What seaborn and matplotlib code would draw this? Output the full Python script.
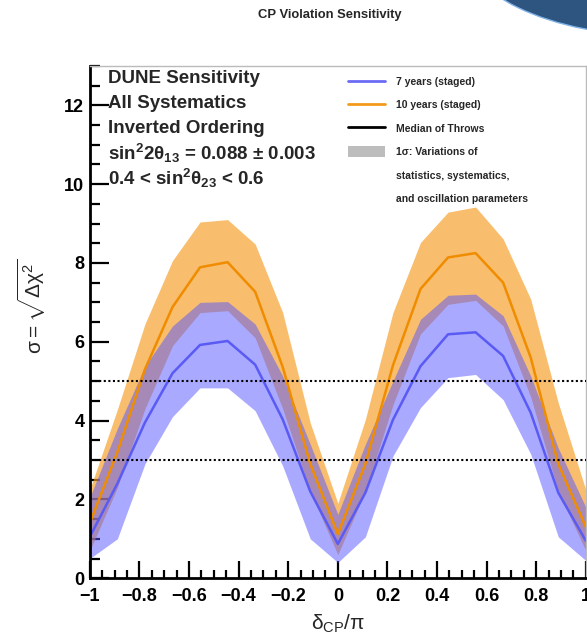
"""DUNE CP violation sensitivity, inverted ordering, staged 7 vs 10 years."""
import numpy as np
import pandas as pd
import matplotlib
matplotlib.use('Agg')
import matplotlib.pyplot as plt
import seaborn as sns
from matplotlib.lines import Line2D
from matplotlib.patches import Patch, Ellipse
from matplotlib.ticker import MultipleLocator

# delta_CP grid in degrees (20 deg steps), plotted as delta_CP / pi
delta_deg = [-180, -160, -140, -120, -100, -80, -60, -40, -20, 0,
             20, 40, 60, 80, 100, 120, 140, 160, 180]

# 7 years (staged): median of throws and 1 sigma band
blue_med = [1.05, 2.40, 3.95, 5.20, 5.92, 6.02, 5.42, 4.03, 2.20, 0.87,
            2.17, 4.02, 5.38, 6.19, 6.24, 5.64, 4.20, 2.17, 0.95]
blue_lo = [0.50, 1.00, 2.90, 4.10, 4.83, 4.83, 4.25, 2.85, 1.00, 0.40,
           1.05, 3.10, 4.33, 5.09, 5.17, 4.53, 3.15, 1.05, 0.45]
blue_hi = [2.05, 3.80, 5.38, 6.40, 7.00, 7.02, 6.45, 5.13, 3.40, 1.62,
           3.40, 5.00, 6.57, 7.18, 7.21, 6.66, 5.13, 3.30, 1.80]

# 10 years (staged)
orange_med = [1.40, 3.20, 5.30, 6.88, 7.89, 8.02, 7.27, 5.36, 2.90, 1.12,
              2.90, 5.40, 7.34, 8.14, 8.25, 7.50, 5.60, 2.90, 1.30]
orange_lo = [0.70, 2.30, 4.30, 5.90, 6.74, 6.79, 6.10, 4.30, 2.20, 0.60,
             2.20, 4.40, 6.20, 6.95, 7.05, 6.40, 4.60, 2.20, 0.70]
orange_hi = [2.25, 4.28, 6.45, 8.06, 9.04, 9.10, 8.48, 6.74, 3.94, 1.90,
             4.03, 6.74, 8.52, 9.29, 9.42, 8.61, 7.08, 4.45, 2.24]

sigma_levels = [3, 5]
info_lines = ['DUNE Sensitivity', 'All Systematics', 'Inverted Ordering',
              r'sin$^2$2$\theta_{13}$ = 0.088 $\pm$ 0.003',
              r'0.4 < sin$^2\theta_{23}$ < 0.6']

sns.set_theme(style='white')
plt.rcParams['font.family'] = ['Liberation Sans', 'DejaVu Sans']
plt.rcParams['font.weight'] = 'bold'
plt.rcParams['mathtext.fontset'] = 'custom'
plt.rcParams['mathtext.rm'] = 'Liberation Sans:bold'
plt.rcParams['mathtext.it'] = 'Liberation Sans:bold'
plt.rcParams['mathtext.bf'] = 'Liberation Sans:bold'
plt.rcParams['mathtext.default'] = 'regular'

df = pd.DataFrame({'dcp': np.array(delta_deg) / 180.0,
                   'blue': blue_med, 'orange': orange_med})

fig = plt.figure(figsize=(5.87, 6.34), dpi=100)
ax = fig.add_axes([0.153, 0.088, 0.845, 0.808])

blue_fill = '#5555ff'
orange_fill = '#f59b1f'
ax.fill_between(df['dcp'], orange_lo, orange_hi, color=orange_fill, alpha=0.65, lw=0)
sns.lineplot(data=df, x='dcp', y='orange', ax=ax, color='#f08c00', lw=1.8)
ax.fill_between(df['dcp'], blue_lo, blue_hi, color=blue_fill, alpha=0.5, lw=0)
sns.lineplot(data=df, x='dcp', y='blue', ax=ax, color='#5a5af5', lw=1.8)

for lvl in sigma_levels:
    ax.axhline(lvl, color='black', ls=(0, (1, 1.2)), lw=1.5, zorder=5)

ax.set_xlim(-1, 1)
ax.set_ylim(0, 13)
ax.set_xticks([-1, -0.8, -0.6, -0.4, -0.2, 0, 0.2, 0.4, 0.6, 0.8, 1])
ax.set_xticklabels(['\u22121', '\u22120.8', '\u22120.6', '\u22120.4', '\u22120.2',
                    '0', '0.2', '0.4', '0.6', '0.8', '1'])
ax.xaxis.set_minor_locator(MultipleLocator(0.05))
ax.yaxis.set_major_locator(MultipleLocator(2))
ax.yaxis.set_minor_locator(MultipleLocator(0.5))
ax.tick_params(axis='both', which='both', direction='in', width=1.6,
               bottom=True, left=True, top=False, right=False, colors='black')
ax.tick_params(axis='y', which='major', length=14, labelsize=13, pad=4)
ax.tick_params(axis='y', which='minor', length=7)
ax.tick_params(axis='x', which='major', length=12, labelsize=13, pad=7)
ax.tick_params(axis='x', which='minor', length=6)
for lab in ax.get_xticklabels() + ax.get_yticklabels():
    lab.set_fontweight('bold')

for side in ['left', 'bottom']:
    ax.spines[side].set_color('black')
    ax.spines[side].set_linewidth(2)
for side in ['top', 'right']:
    ax.spines[side].set_color('#bbbbbb')
    ax.spines[side].set_linewidth(1)

ax.set_xlabel(r'$\delta_{CP}/\pi$', fontsize=15)
ax.set_ylabel(r'$\sigma = \sqrt{\Delta\chi^2}$', fontsize=15)
ax.xaxis.set_label_coords(0.5, -0.068)
ax.yaxis.set_label_coords(-0.085, 0.53)

for i, line in enumerate(info_lines):
    ax.text(0.036, 0.975 - i * 0.0485, line, transform=ax.transAxes,
            fontsize=13.5, fontweight='bold', va='center', ha='left')

handles = [Line2D([], [], color='#6b6bf5', lw=2),
           Line2D([], [], color='#f39a1c', lw=2),
           Line2D([], [], color='black', lw=2),
           Patch(color='#bdbdbd', lw=0),
           Line2D([], [], alpha=0),
           Line2D([], [], alpha=0)]
labels = ['7 years (staged)', '10 years (staged)', 'Median of Throws',
          '1\u03c3: Variations of', 'statistics, systematics,',
          'and oscillation parameters']
ax.legend(handles, labels, loc='upper left', bbox_to_anchor=(0.51, 0.99),
          frameon=False, prop={'size': 7.5, 'weight': 'bold'},
          handlelength=3.6, handleheight=1.2, handletextpad=1.0,
          labelspacing=1.2, borderpad=0)

fig.text(0.562, 0.976, 'CP Violation Sensitivity', ha='center', va='center',
         fontsize=9.4, fontweight='bold')

# decorative banner corner top-right
fig.patches.append(Ellipse((660 / 587, 1 + 60 / 634), 400 / 587, 192 / 634,
                           transform=fig.transFigure, facecolor='#2e5580',
                           edgecolor='#7fb2e6', lw=1))

fig.savefig('out.png', dpi=100)
